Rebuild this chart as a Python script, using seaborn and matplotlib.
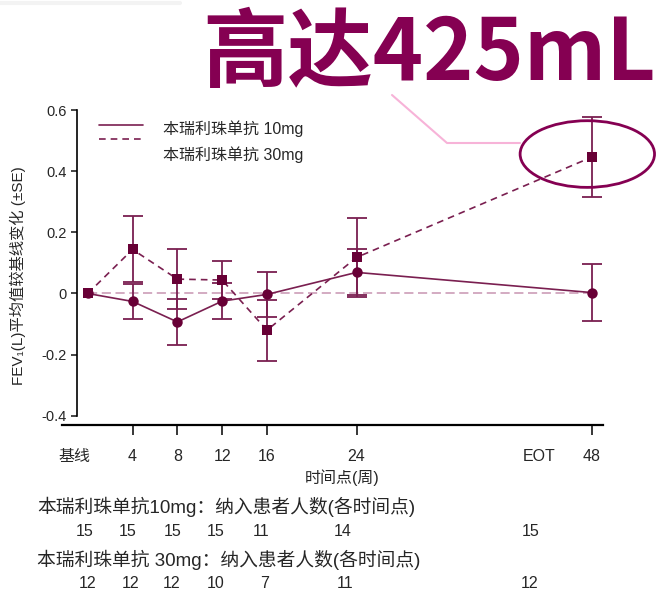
import numpy as np
import pandas as pd
import matplotlib
matplotlib.use("Agg")
import matplotlib.pyplot as plt
import seaborn as sns
from matplotlib.patches import Ellipse
from matplotlib.lines import Line2D
from matplotlib.transforms import blended_transform_factory

sns.set_style("white")
plt.rcParams["font.family"] = ["Liberation Sans", "Noto Sans CJK SC", "DejaVu Sans"]

# colours
LINE = "#7a1f50"
MARK = "#680036"
ZERO = "#c894b2"
TITLE = "#850052"
PINK = "#f7b3d8"

# data
weeks = ["基线", "4", "8", "12", "16", "24", "48"]
x_pos = [0, 4, 8, 12, 16, 24, 45]        # 48 wk drawn on a compressed axis
mean_10 = [0.0, -0.026, -0.093, -0.025, -0.003, 0.069, 0.003]
se_10 = [0.0, 0.057, 0.076, 0.058, 0.074, 0.075, 0.094]
mean_30 = [0.0, 0.144, 0.047, 0.044, -0.120, 0.118, 0.446]
se_30 = [0.0, 0.108, 0.098, 0.061, 0.100, 0.130, 0.130]
n_10 = ["15", "15", "15", "15", "11", "14", "15"]
n_30 = ["12", "12", "12", "10", "7", "11", "12"]
dose_labels = ["本瑞利珠单抗 10mg", "本瑞利珠单抗 30mg"]

df = pd.DataFrame({
    "pos": x_pos * 2,
    "mean": mean_10 + mean_30,
    "se": se_10 + se_30,
    "dose": [dose_labels[0]] * len(x_pos) + [dose_labels[1]] * len(x_pos),
})

W, H = 661, 589
fig = plt.figure(figsize=(W / 100, H / 100), dpi=100)


def fx(px):
    return px / W


def fy(py):
    return 1 - py / H


ax = fig.add_axes([fx(62), fy(425), fx(603) - fx(62), fy(110) - fy(425)])
ax.set_xlim(-2.3, 46)
ax.set_ylim(-0.43, 0.6)

# zero reference
ax.plot([x_pos[0], x_pos[-1]], [0, 0], color=ZERO, lw=1.1, ls=(0, (6, 3)), zorder=1)

# lines + markers
sns.lineplot(data=df, x="pos", y="mean", hue="dose", style="dose",
             palette={dose_labels[0]: LINE, dose_labels[1]: LINE},
             dashes={dose_labels[0]: "", dose_labels[1]: (4, 3)},
             markers={dose_labels[0]: "o", dose_labels[1]: "s"},
             markersize=7.5, markeredgewidth=0, linewidth=1.2,
             legend=False, ax=ax, zorder=3)
for line in ax.lines[1:]:
    line.set_markerfacecolor(MARK)

# error bars (no bar at baseline)
for m, s in [(mean_10, se_10), (mean_30, se_30)]:
    ax.errorbar(x_pos[1:], m[1:], yerr=s[1:], fmt="none", ecolor=LINE,
                elinewidth=1.3, capsize=7.5, capthick=1.3, zorder=2)

# spines
for side in ["top", "right"]:
    ax.spines[side].set_visible(False)
ax.spines["left"].set_position(("data", -1.0))
ax.spines["left"].set_bounds(-0.4, 0.6)
ax.spines["left"].set_linewidth(1.2)
ax.spines["bottom"].set_linewidth(1.6)
for s in ["left", "bottom"]:
    ax.spines[s].set_color("black")

ax.set_yticks([-0.4, -0.2, 0, 0.2, 0.4, 0.6])
ax.set_yticklabels(["-0.4", "-0.2", "0", "0.2", "0.4", "0.6"])
ax.set_xticks(x_pos[1:])
ax.set_xticklabels(weeks[1:])
ax.set_xticks([-1.2, 40.3], ["基线", "EOT"], minor=True)
ax.tick_params(axis="y", direction="out", length=4, width=1.2, pad=3,
               labelsize=10.5, left=True)
ax.tick_params(axis="x", which="major", direction="out", length=7, width=1.3,
               pad=10, labelsize=11.5, bottom=True)
ax.tick_params(axis="x", which="minor", length=0, pad=17, labelsize=11.5)
ax.set_xlabel("")
ax.set_ylabel("")

# ellipse highlight
ax.add_patch(Ellipse((44.6, 0.456), 12.0, 0.218, fill=False, ec=TITLE,
                     lw=2.0, zorder=4, clip_on=False))

# legend drawn by hand
fig.add_artist(Line2D([fx(99), fx(143)], [fy(125), fy(125)], color=LINE, lw=1.2))
fig.add_artist(Line2D([fx(99), fx(143)], [fy(139), fy(139)], color=LINE, lw=1.2,
                      ls=(0, (4, 3))))
fig.text(fx(163), fy(129), dose_labels[0], fontsize=11.5, va="center")
fig.text(fx(163), fy(155), dose_labels[1], fontsize=11.5, va="center")

# axis titles
fig.text(fx(18), fy(276), "FEV₁(L)平均值较基线变化 (±SE)", rotation=90,
         fontsize=11, ha="center", va="center")
fig.text(fx(342), fy(478), "时间点(周)", fontsize=11.5, ha="center", va="center")

# patient counts
tr = blended_transform_factory(ax.transData, fig.transFigure)
count_x_10 = [-0.3, 3.6, 7.6, 11.4, 15.5, 22.8, 39.5]
count_x_30 = [0.0, 3.8, 7.5, 11.4, 15.8, 23.0, 39.4]
fig.text(fx(37), fy(507), "本瑞利珠单抗10mg：纳入患者人数(各时间点)", fontsize=13.5,
         va="center")
for xp, n in zip(count_x_10, n_10):
    fig.text(xp, fy(532), n, transform=tr, fontsize=11.5, ha="center", va="center")
fig.text(fx(37), fy(560), "本瑞利珠单抗 30mg：纳入患者人数(各时间点)", fontsize=13.5,
         va="center")
for xp, n in zip(count_x_30, n_30):
    fig.text(xp, fy(583), n, transform=tr, fontsize=11.5, ha="center", va="center")

# headline + connector
fig.text(fx(202), fy(55), "高达425mL", fontsize=61.5, fontweight="bold",
         color=TITLE, family=["Noto Sans CJK SC", "DejaVu Sans"],
         ha="left", va="center")
fig.add_artist(Line2D([fx(392), fx(447), fx(520)], [fy(95), fy(143), fy(143)],
                      color=PINK, lw=1.5))
fig.add_artist(Line2D([0, fx(180)], [fy(3), fy(3)], color="#f3f3f3", lw=3))

fig.savefig("out.png", dpi=100)
